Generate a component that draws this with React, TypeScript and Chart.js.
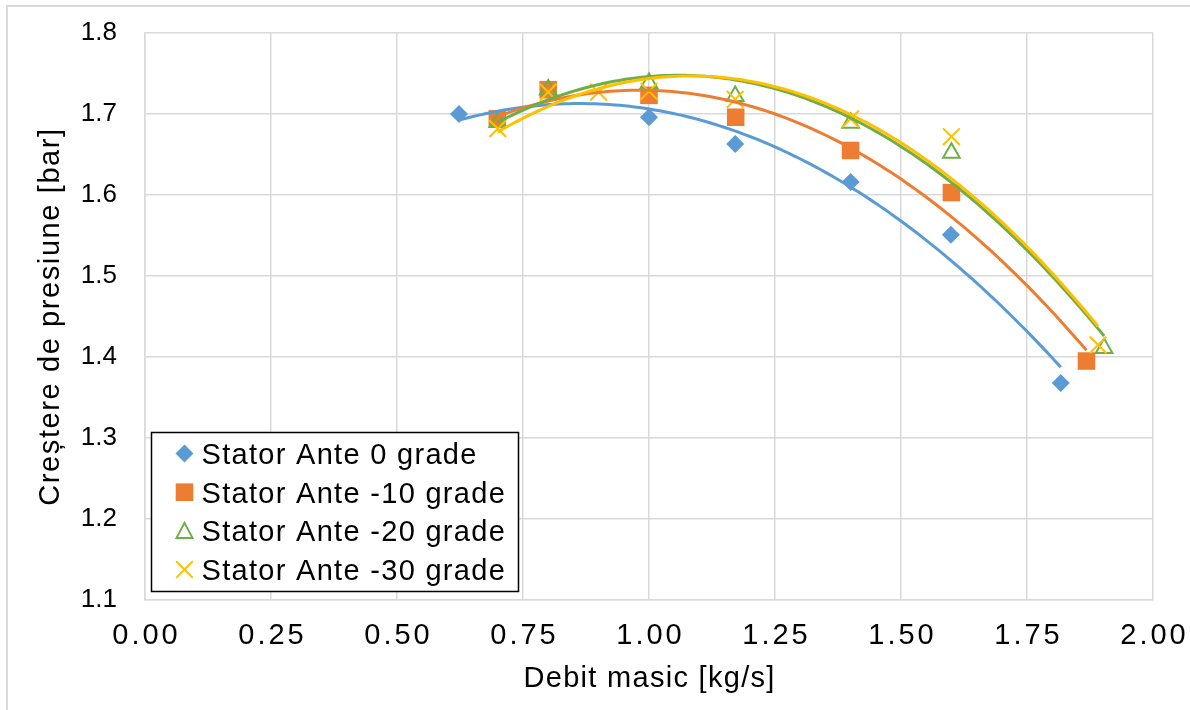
import React, { useEffect, useRef } from 'react';
import { Chart, registerables } from 'chart.js';

Chart.register(...registerables);

// ---------- data ----------
const seriesNames = [
  'Stator Ante 0 grade',
  'Stator Ante -10 grade',
  'Stator Ante -20 grade',
  'Stator Ante -30 grade',
];
const seriesColors = ['#5B9BD5', '#ED7D31', '#70AD47', '#FFC000'];

const ante0X = [0.623, 1.0, 1.171, 1.4, 1.599, 1.817];
const ante0Y = [1.7, 1.696, 1.663, 1.616, 1.551, 1.368];

const ante10X = [0.699, 0.8, 1.0, 1.172, 1.4, 1.6, 1.868];
const ante10Y = [1.694, 1.73, 1.723, 1.696, 1.655, 1.603, 1.395];

const ante20X = [0.7, 0.8, 1.0, 1.171, 1.4, 1.6, 1.903];
const ante20Y = [1.69, 1.73, 1.738, 1.722, 1.689, 1.652, 1.411];

const ante30X = [0.7, 0.8, 0.9, 1.0, 1.171, 1.4, 1.6, 1.891];
const ante30Y = [1.682, 1.727, 1.727, 1.728, 1.718, 1.694, 1.672, 1.415];

const xAxisTitle = 'Debit masic [kg/s]';
const yAxisTitle = 'Creștere de presiune [bar]';
const xMin = 0;
const xMax = 2;
const xStep = 0.25;
const yMin = 1.1;
const yMax = 1.8;
const yStep = 0.1;

// ---------- helpers ----------
function toPoints(xs: number[], ys: number[]) {
  return xs.map((x, i) => ({ x, y: ys[i] }));
}

// Excel-style polynomial (order 2) trendline: least-squares fit of the data
function quadTrend(xs: number[], ys: number[], samples = 120) {
  let s0 = 0, s1 = 0, s2 = 0, s3 = 0, s4 = 0, t0 = 0, t1 = 0, t2 = 0;
  xs.forEach((x, i) => {
    const y = ys[i];
    s0 += 1; s1 += x; s2 += x * x; s3 += x * x * x; s4 += x * x * x * x;
    t0 += y; t1 += x * y; t2 += x * x * y;
  });
  const det = (m: number[][]) =>
    m[0][0] * (m[1][1] * m[2][2] - m[1][2] * m[2][1]) -
    m[0][1] * (m[1][0] * m[2][2] - m[1][2] * m[2][0]) +
    m[0][2] * (m[1][0] * m[2][1] - m[1][1] * m[2][0]);
  const A = [[s0, s1, s2], [s1, s2, s3], [s2, s3, s4]];
  const T = [t0, t1, t2];
  const D = det(A);
  const coef = [0, 1, 2].map((k) => {
    const M = A.map((row, r) => row.map((v, c) => (c === k ? T[r] : v)));
    return det(M) / D;
  });
  const lo = Math.min(...xs);
  const hi = Math.max(...xs);
  const pts = [];
  for (let i = 0; i <= samples; i++) {
    const x = lo + ((hi - lo) * i) / samples;
    pts.push({ x, y: coef[0] + coef[1] * x + coef[2] * x * x });
  }
  return pts;
}

function drawMarker(ctx: CanvasRenderingContext2D, kind: number, x: number, y: number) {
  const c = seriesColors[kind];
  ctx.save();
  ctx.beginPath();
  if (kind === 0) {
    const r = 9;
    ctx.moveTo(x - r, y);
    ctx.lineTo(x, y - r);
    ctx.lineTo(x + r, y);
    ctx.lineTo(x, y + r);
    ctx.closePath();
    ctx.fillStyle = c;
    ctx.fill();
  } else if (kind === 1) {
    ctx.fillStyle = c;
    ctx.fillRect(x - 8.8, y - 8.8, 17.6, 17.6);
  } else if (kind === 2) {
    ctx.moveTo(x, y - 8);
    ctx.lineTo(x + 8, y + 7);
    ctx.lineTo(x - 8, y + 7);
    ctx.closePath();
    ctx.strokeStyle = c;
    ctx.lineWidth = 2;
    ctx.stroke();
  } else {
    const h = 8.3;
    ctx.moveTo(x - h, y - h);
    ctx.lineTo(x + h, y + h);
    ctx.moveTo(x + h, y - h);
    ctx.lineTo(x - h, y + h);
    ctx.strokeStyle = c;
    ctx.lineWidth = 2;
    ctx.stroke();
  }
  ctx.restore();
}

function patchSpacing(scale: any, method: string, spacing: string, dx: number) {
  const key = '__patched_' + method;
  if (!scale || scale[key]) return;
  const orig = scale[method];
  scale[method] = function (...args: any[]) {
    const ctx = this.ctx as CanvasRenderingContext2D;
    ctx.save();
    (ctx as any).letterSpacing = spacing;
    if (dx) ctx.translate(dx, 0);
    orig.apply(this, args);
    ctx.restore();
  };
  scale[key] = true;
}

const framePlugin = {
  id: 'frameAndLegend',
  beforeDraw(chart: any) {
    const ctx = chart.ctx as CanvasRenderingContext2D;
    ctx.save();
    ctx.fillStyle = '#ffffff';
    ctx.fillRect(0, 0, chart.width, chart.height);
    ctx.strokeStyle = '#d9d9d9';
    ctx.lineWidth = 2;
    ctx.strokeRect(7, 6, chart.width + 100, chart.height + 100);
    ctx.restore();
    patchSpacing(chart.scales.x, 'drawLabels', '3px', 1.5);
    patchSpacing(chart.scales.x, 'drawTitle', '1.3px', 0.6);
    patchSpacing(chart.scales.y, 'drawTitle', '1.6px', 0);
  },
  afterDraw(chart: any) {
    const ctx = chart.ctx as CanvasRenderingContext2D;
    const area = chart.chartArea;
    const left = area.left + 6.5;
    const top = area.bottom - 167.5;
    const w = 367;
    const h = 159;
    ctx.save();
    ctx.fillStyle = '#ffffff';
    ctx.fillRect(left, top, w, h);
    ctx.strokeStyle = '#000000';
    ctx.lineWidth = 1.5;
    ctx.strokeRect(left, top, w, h);
    ctx.font = '29px "Liberation Sans", Arial, sans-serif';
    (ctx as any).letterSpacing = '1.3px';
    ctx.fillStyle = '#000000';
    ctx.textBaseline = 'alphabetic';
    ctx.textAlign = 'left';
    const rowGap = 38.7;
    seriesNames.forEach((name, i) => {
      const cy = top + 21 + i * rowGap;
      drawMarker(ctx, i, left + 33, cy);
      ctx.fillText(name, left + 50, cy + 10.3);
    });
    ctx.restore();
  },
};

export default function App() {
  const canvasRef = useRef<HTMLCanvasElement | null>(null);

  useEffect(() => {
    document.body.style.margin = '0';
    const canvas = canvasRef.current;
    if (!canvas) return;

    const scatterBase = (i: number) => ({
      label: seriesNames[i],
      borderColor: seriesColors[i],
      backgroundColor: seriesColors[i],
      showLine: false,
    });

    const chart = new Chart(canvas, {
      type: 'scatter',
      data: {
        datasets: [
          {
            ...scatterBase(0),
            data: toPoints(ante0X, ante0Y),
            pointStyle: 'rectRot',
            pointRadius: 9,
            pointBorderWidth: 0,
            order: 7,
          },
          {
            ...scatterBase(1),
            data: toPoints(ante10X, ante10Y),
            pointStyle: 'rect',
            pointRadius: 12.4,
            pointBorderWidth: 0,
            order: 6,
          },
          {
            ...scatterBase(2),
            data: toPoints(ante20X, ante20Y),
            pointStyle: 'triangle',
            pointRadius: 9.6,
            pointBorderWidth: 2,
            backgroundColor: 'rgba(0,0,0,0)',
            order: 5,
          },
          {
            ...scatterBase(3),
            data: toPoints(ante30X, ante30Y),
            pointStyle: 'crossRot',
            pointRadius: 11.8,
            pointBorderWidth: 2,
            order: 4,
          },
          {
            label: 'trend0',
            data: quadTrend(ante0X, ante0Y),
            showLine: true,
            borderColor: seriesColors[0],
            borderWidth: 3,
            pointRadius: 0,
            tension: 0,
            order: 3,
          },
          {
            label: 'trend1',
            data: quadTrend(ante10X, ante10Y),
            showLine: true,
            borderColor: seriesColors[1],
            borderWidth: 3,
            pointRadius: 0,
            tension: 0,
            order: 2,
          },
          {
            label: 'trend2',
            data: quadTrend(ante20X, ante20Y),
            showLine: true,
            borderColor: seriesColors[2],
            borderWidth: 3,
            pointRadius: 0,
            tension: 0,
            order: 1,
          },
          {
            label: 'trend3',
            data: quadTrend(ante30X, ante30Y),
            showLine: true,
            borderColor: seriesColors[3],
            borderWidth: 3,
            pointRadius: 0,
            tension: 0,
            order: 0,
          },
        ],
      },
      options: {
        animation: false,
        responsive: false,
        devicePixelRatio: 1,
        layout: { padding: { top: 33, right: 37, left: 0, bottom: 0 } },
        plugins: {
          legend: { display: false },
          tooltip: { enabled: false },
        },
        scales: {
          x: {
            type: 'linear',
            position: 'bottom',
            min: xMin,
            max: xMax,
            grid: { color: '#d9d9d9', lineWidth: 1.5, drawTicks: false },
            border: { color: '#d9d9d9', width: 1.5 },
            ticks: {
              stepSize: xStep,
              padding: 19,
              color: '#000000',
              font: { family: '"Liberation Sans", Arial, sans-serif', size: 29 },
              callback: (v: any) => Number(v).toFixed(2),
            },
            title: {
              display: true,
              text: xAxisTitle,
              color: '#000000',
              font: { family: '"Liberation Sans", Arial, sans-serif', size: 29 },
              padding: { top: 0, bottom: 13.5 },
            },
            afterFit: (scale: any) => {
              scale.height = 110;
              scale.paddingLeft = 0;
              scale.paddingRight = 0;
            },
          },
          y: {
            type: 'linear',
            position: 'left',
            min: yMin,
            max: yMax,
            grid: { color: '#d9d9d9', lineWidth: 1.5, drawTicks: false },
            border: { color: '#d9d9d9', width: 1.5 },
            ticks: {
              stepSize: yStep,
              padding: 28,
              color: '#000000',
              font: { family: '"Liberation Sans", Arial, sans-serif', size: 26 },
              callback: (v: any) => Number(v).toFixed(1),
            },
            title: {
              display: true,
              text: yAxisTitle,
              color: '#000000',
              font: { family: '"Liberation Sans", Arial, sans-serif', size: 29 },
              padding: { top: 33.5, bottom: 0 },
            },
            afterFit: (scale: any) => {
              scale.width = 145;
              scale.paddingTop = 0;
              scale.paddingBottom = 0;
            },
          },
        },
      },
      plugins: [framePlugin],
    } as any);

    return () => {
      chart.destroy();
    };
  }, []);

  return (
    <div style={{ position: 'absolute', left: 0, top: 0, width: 1190, height: 710 }}>
      <canvas ref={canvasRef} width={1190} height={710} style={{ display: 'block' }} />
    </div>
  );
}
